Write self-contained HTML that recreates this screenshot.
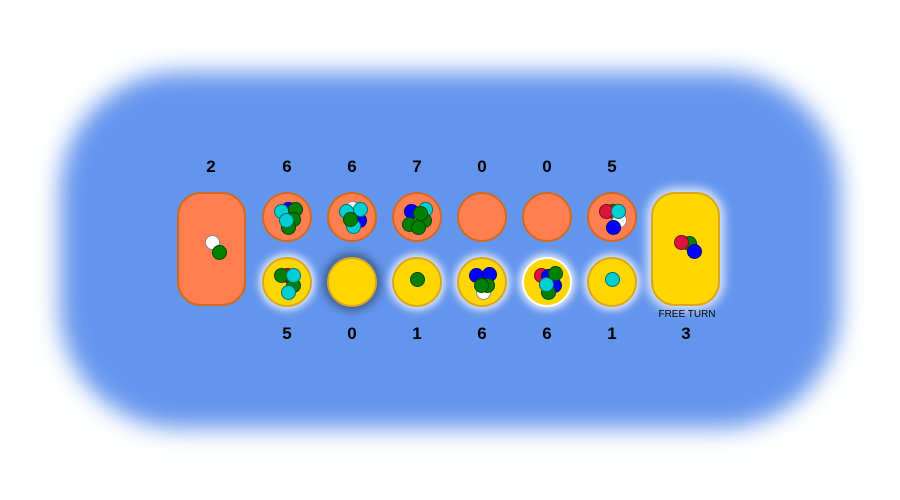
<!DOCTYPE html>
<html><head><meta charset="utf-8"><style>
body{margin:0;width:900px;height:500px;background:#fff;position:relative;overflow:hidden;font-family:"Liberation Sans",sans-serif}
#board{position:absolute;left:60px;top:72px;width:780px;height:356px;border-radius:120px;background:#6495ED;filter:blur(12px)}
.pit{position:absolute;width:46px;height:46px;border-radius:50%;box-sizing:content-box;border:2px solid}
.top{background:#FF7F50;border-color:#D2691E}
.bot{background:#FFD700;border-color:#DAA520;box-shadow:0 0 8px 3px rgba(255,255,255,.85)}
.store{position:absolute;width:65px;height:110px;border-radius:24px;border:2px solid}
.num{position:absolute;width:40px;text-align:center;font-weight:bold;font-size:17px;color:#000}
.st{position:absolute;width:13px;height:13px;border-radius:50%;border:1px solid rgba(0,0,0,.45)}
</style></head><body>
<div id="board"></div>
<div id="layer"></div>
<div style="position:absolute;left:650px;top:309px;width:74px;text-align:center;font-size:10px;color:#000">FREE TURN</div>
<script>
const topCounts=[6,6,7,0,0,5];
const botCounts=[5,0,1,6,6,1];
const storeLeft=2, storeRight=3;
const C={r:'#DC143C',g:'#008000',b:'#0000FF',c:'#00CED1',w:'#FFFFFF'};
const topStones=[
 [['b',288,209],['c',281,211],['g',295,209],['g',293,219],['g',288,227],['c',286,220]],
 [['w',352,208],['b',359,220],['c',346,211],['c',360,209],['c',353,226],['g',350,219]],
 [['b',411,211],['c',425,209],['g',424,220],['g',409,224],['g',418,227],['g',420,213]],
 [],[],
 [['g',613,211],['w',619,220],['r',606,211],['c',618,211],['b',613,227]]];
const botStones=[
 [['r',287,275],['g',293,285],['g',281,275],['c',293,275],['c',288,292]],
 [],[['g',417,279]],
 [['b',482,278],['w',483,292],['b',476,275],['b',489,274],['g',487,285],['g',481,285]],
 [['r',541,275],['b',548,276],['b',554,285],['g',555,273],['g',548,292],['c',546,284]],
 [['c',612,279]]];
const leftStones=[['w',212,242],['g',219,252]];
const rightStones=[['g',689,243],['r',681,242],['b',694,251]];
const L=document.getElementById('layer');
function add(cls,style,name,inter){const d=document.createElement('div');d.className=cls;d.style.cssText=style;


L.appendChild(d);return d;}
function stones(arr){arr.forEach(s=>{const d=add('st',`left:${s[1]-7}px;top:${s[2]-7}px;background:${C[s[0]]}`,'stone','false');});}
const xs=[287,352,417,482,547,612];
add('store top','left:177px;top:192px;background:#FF7F50;border-color:#D2691E','left-store','false');
add('store','left:651px;top:192px;background:#FFD700;border-color:#DAA520;box-shadow:0 0 10px 4px rgba(255,255,255,.8)','right-store','false');
xs.forEach((x,i)=>{
 add('pit top',`left:${x-25}px;top:192px`,'top-pit-'+(i+1),'false');
 let extra='';
 if(i==1) extra='box-shadow:0 0 10px 3px rgba(0,0,0,.45);';
 if(i==4) extra='border-color:#fff;box-shadow:0 0 8px 3px rgba(255,255,255,.85);';
 add('pit bot',`left:${x-25}px;top:257px;${extra}`,'bottom-pit-'+(i+1),'true');
 const t=add('num',`left:${x-20}px;top:157px`,'top-pit-count','false');t.textContent=topCounts[i];
 const b=add('num',`left:${x-20}px;top:324px`,'bottom-pit-count','false');b.textContent=botCounts[i];
});
const sl=add('num','left:191px;top:157px','left-store-count','false');sl.textContent=storeLeft;
const sr=add('num','left:666px;top:324px','right-store-count','false');sr.textContent=storeRight;
topStones.forEach(stones);botStones.forEach(stones);stones(leftStones);stones(rightStones);
</script>
</body></html>
